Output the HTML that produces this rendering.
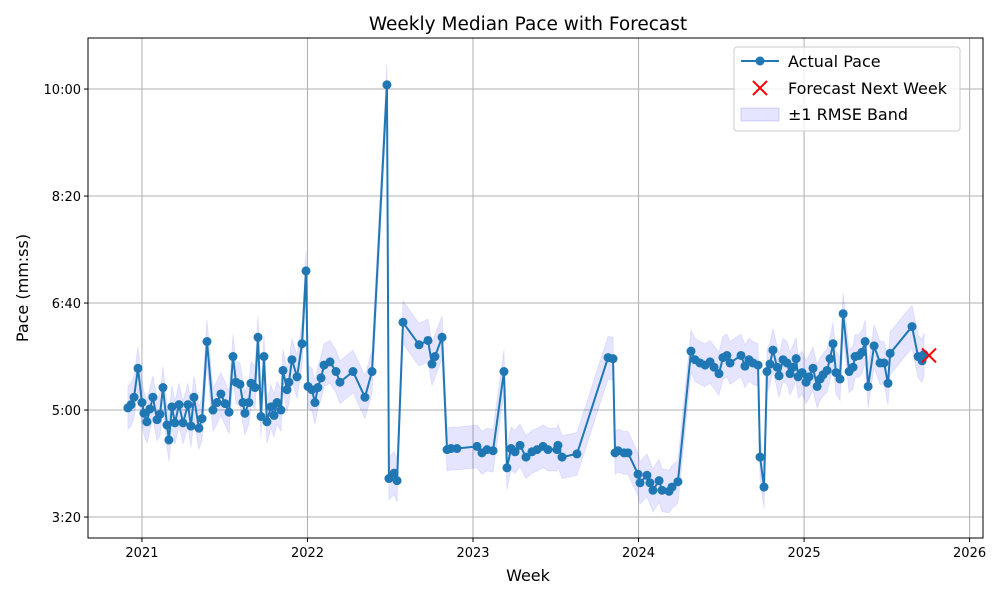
<!DOCTYPE html>
<html><head><meta charset="utf-8"><style>
body{margin:0;background:#fff;font-family:"Liberation Sans","DejaVu Sans",sans-serif;}
svg text{font-family:"DejaVu Sans","Liberation Sans",sans-serif;}
</style></head><body>
<svg id="chart" width="1000" height="600" xmlns="http://www.w3.org/2000/svg"></svg>
<script>
const weeks=[2020.915,2020.934,2020.952,2020.976,2021.000,2021.012,2021.030,2021.048,2021.066,2021.091,2021.109,2021.127,2021.151,2021.163,2021.181,2021.199,2021.224,2021.248,2021.278,2021.296,2021.314,2021.344,2021.363,2021.393,2021.429,2021.453,2021.477,2021.502,2021.526,2021.550,2021.568,2021.592,2021.610,2021.622,2021.646,2021.659,2021.683,2021.701,2021.719,2021.737,2021.755,2021.779,2021.798,2021.816,2021.840,2021.852,2021.876,2021.888,2021.906,2021.937,2021.967,2021.991,2022.003,2022.027,2022.045,2022.063,2022.082,2022.100,2022.136,2022.172,2022.196,2022.275,2022.347,2022.390,2022.480,2022.492,2022.523,2022.541,2022.577,2022.674,2022.728,2022.752,2022.770,2022.813,2022.843,2022.867,2022.903,2023.024,2023.054,2023.085,2023.121,2023.187,2023.205,2023.230,2023.254,2023.284,2023.320,2023.356,2023.387,2023.423,2023.453,2023.507,2023.513,2023.538,2023.628,2023.816,2023.846,2023.858,2023.876,2023.912,2023.936,2023.997,2024.009,2024.051,2024.069,2024.087,2024.124,2024.142,2024.184,2024.202,2024.238,2024.317,2024.341,2024.371,2024.402,2024.432,2024.456,2024.486,2024.510,2024.534,2024.553,2024.619,2024.643,2024.667,2024.692,2024.722,2024.734,2024.758,2024.776,2024.794,2024.812,2024.837,2024.849,2024.873,2024.897,2024.915,2024.933,2024.952,2024.964,2024.988,2025.012,2025.030,2025.054,2025.079,2025.097,2025.115,2025.139,2025.157,2025.175,2025.193,2025.217,2025.236,2025.272,2025.296,2025.308,2025.332,2025.350,2025.369,2025.387,2025.423,2025.459,2025.483,2025.507,2025.520,2025.652,2025.689,2025.713,2025.725];
const paceSec=[302,305,312,339,307,297,289,301,312,291,296,321,286,272,303,288,305,288,305,285,312,283,292,364,300,307,315,306,298,350,326,324,307,297,307,325,321,368,294,350,289,303,295,307,300,337,319,326,347,331,362,430,322,319,307,321,330,342,345,336,326,336,312,336,604,236,241,234,382,361,365,343,350,368,263,264,264,266,260,263,262,336,246,264,261,267,256,261,263,266,263,263,267,256,259,349,348,260,262,260,260,240,232,239,232,225,234,225,224,228,233,355,347,344,342,345,340,334,349,351,344,351,341,347,344,342,256,228,336,343,356,340,332,347,344,334,340,348,331,335,326,331,339,322,329,333,337,348,362,335,329,390,336,340,350,351,354,364,322,360,344,344,325,353,378,350,346,352];
const forecastWeek=[2025.755];
const forecastSec=[351];
const rmse=20;
const yTicks=[200,300,400,500,600];
const yTickLabels=["3:20","5:00","6:40","8:20","10:00"];
const xTicks=[2021,2022,2023,2024,2025,2026];
const xTickLabels=["2021","2022","2023","2024","2025","2026"];

const L=88,R=983,T=38,B=538;
const xMin=2020.674,xMax=2026.081,yMin=180.4,yMax=647.7;
const sx=v=>L+(v-xMin)/(xMax-xMin)*(R-L);
const sy=v=>B-(v-yMin)/(yMax-yMin)*(B-T);
const svg=document.getElementById('chart');
const NS='http://www.w3.org/2000/svg';
function mk(tag,attrs,parent){const e=document.createElementNS(NS,tag);for(const k in attrs)e.setAttribute(k,attrs[k]);(parent||svg).appendChild(e);return e;}

let t=mk('text',{x:528,y:30,'text-anchor':'middle','font-size':18.5,fill:'#000'});t.textContent='Weekly Median Pace with Forecast';


yTicks.forEach((v,i)=>{
  const g=mk('line',{x1:L,x2:R,y1:sy(v),y2:sy(v),stroke:'#b0b0b0','stroke-width':1});
  
  
  mk('line',{x1:L-4,x2:L,y1:sy(v),y2:sy(v),stroke:'#000'});
  const tl=mk('text',{x:L-7,y:sy(v)+5,'text-anchor':'end','font-size':13,fill:'#000'});tl.textContent=yTickLabels[i];
  
  
});
xTicks.forEach((v,i)=>{
  const g=mk('line',{x1:sx(v),x2:sx(v),y1:T,y2:B,stroke:'#b0b0b0','stroke-width':1});
  
  
  mk('line',{x1:sx(v),x2:sx(v),y1:B,y2:B+4,stroke:'#000'});
  const tl=mk('text',{x:sx(v),y:B+19,'text-anchor':'middle','font-size':13,fill:'#000'});tl.textContent=xTickLabels[i];
  
  
});
let up=weeks.map((w,i)=>sx(w)+','+sy(paceSec[i]+rmse)).join(' ');
let dn=weeks.map((w,i)=>sx(w)+','+sy(paceSec[i]-rmse)).reverse().join(' ');
const band=mk('polygon',{points:up+' '+dn,fill:'#0000ff','fill-opacity':0.1,stroke:'#0000ff','stroke-opacity':0.08});


const line=mk('polyline',{points:weeks.map((w,i)=>sx(w)+','+sy(paceSec[i])).join(' '),fill:'none',stroke:'#1f77b4','stroke-width':2});


weeks.forEach((w,i)=>{
  const c=mk('circle',{cx:sx(w),cy:sy(paceSec[i]),r:4.5,fill:'#1f77b4'});
  
  
});
forecastWeek.forEach((w,i)=>{
  const x=sx(w),y=sy(forecastSec[i]);
  const g=mk('path',{d:`M${x-7},${y-7}L${x+7},${y+7}M${x-7},${y+7}L${x+7},${y-7}`,stroke:'#ff0000','stroke-width':2,fill:'none'});
  
  
});
const fr=mk('rect',{x:L,y:T,width:R-L,height:B-T,fill:'none',stroke:'#000','stroke-width':1});


let xl=mk('text',{x:528,y:581,'text-anchor':'middle','font-size':16,fill:'#000'});xl.textContent='Week';


let yl=mk('text',{x:0,y:0,'text-anchor':'middle','font-size':16,fill:'#000',transform:'translate(28,288) rotate(-90)'});yl.textContent='Pace (mm:ss)';


const lg=mk('g',{});


mk('rect',{x:734,y:47,width:226,height:84,rx:3,fill:'#fff','fill-opacity':0.8,stroke:'#ccc'},lg);
mk('line',{x1:741,x2:779,y1:61,y2:61,stroke:'#1f77b4','stroke-width':2},lg);
mk('circle',{cx:760,cy:61,r:4.5,fill:'#1f77b4'},lg);
mk('path',{d:'M753,81L767,95M753,95L767,81',stroke:'#ff0000','stroke-width':2},lg);
mk('rect',{x:741,y:108,width:38,height:13,fill:'#0000ff','fill-opacity':0.1,stroke:'#0000ff','stroke-opacity':0.15},lg);
[['Actual Pace',67,'legend-entry-actual'],['Forecast Next Week',94,'legend-entry-forecast'],['±1 RMSE Band',120,'legend-entry-band']].forEach(a=>{
  const e=mk('text',{x:788,y:a[1],'font-size':16,fill:'#000'},lg);e.textContent=a[0];
  
  
});
</script>
</body></html>
